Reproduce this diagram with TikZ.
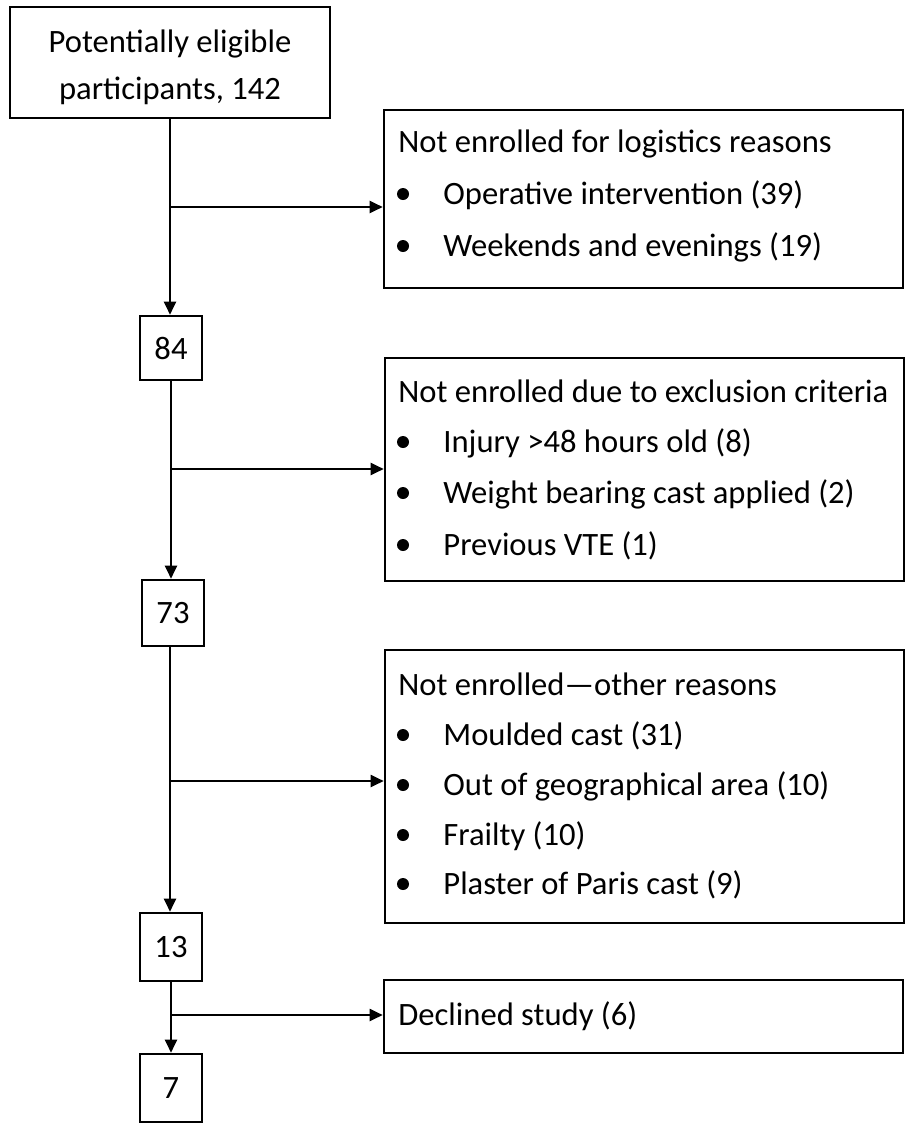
\documentclass[tikz,border=0pt]{standalone}
\usepackage{fontspec}
\setmainfont{Carlito}
\usetikzlibrary{arrows.meta}
\begin{document}
\begin{tikzpicture}[x=0.5pt,y=-0.5pt,
  every node/.style={font=\fontsize{16.3}{23.5}\selectfont},
  box/.style={draw, line width=1.3pt, inner sep=0pt},
  txt/.style={anchor=base west, inner sep=0pt},
  dot/.style={circle, fill, inner sep=0pt, minimum size=6pt},
  arr/.style={line width=1pt, -{Triangle[length=6.5pt,width=6pt]}},
  ln/.style={line width=1pt}]
\useasboundingbox (0,0) rectangle (907,1130);

% left column boxes
\node[box, minimum width=160pt, minimum height=55.5pt] (top) at (170,62.5) {};
\node[align=center, inner sep=0pt] (toptext) at (170,67) {Potentially eligible\\participants, 142};
\node[box, minimum width=31pt, minimum height=32pt] (n84) at (171,348) {\raisebox{-2pt}{84}};
\node[box, minimum width=31pt, minimum height=33pt] (n73) at (173,613) {\raisebox{-0.5pt}{73}};
\node[box, minimum width=31pt, minimum height=34pt] (n13) at (171,947) {\raisebox{-1.5pt}{13}};
\node[box, minimum width=31pt, minimum height=34pt] (n7) at (171,1088) {\raisebox{-1pt}{7}};

% right boxes
\node[box, minimum width=259.5pt, minimum height=89pt] (r1) at (643.5,199) {};
\node[box, minimum width=259.5pt, minimum height=111.5pt] (r2) at (644.5,469.5) {};
\node[box, minimum width=259.5pt, minimum height=136.5pt] (r3) at (644.5,786.5) {};
\node[box, minimum width=259.5pt, minimum height=36.5pt] (r4) at (643.5,1016.5) {};

% box 1 text
\node[txt] (r1t) at (398,152) {Not enrolled for logistics reasons};
\node[dot] (r1d1) at (403,194) {};
\node[txt] (r1a) at (443,204) {Operative intervention (39)};
\node[dot] (r1d2) at (403,246) {};
\node[txt] (r1b) at (443,256) {Weekends and evenings (19)};

% box 2 text
\node[txt] (r2t) at (398,402) {Not enrolled due to exclusion criteria};
\node[dot] (r2d1) at (403,442) {};
\node[txt] (r2a) at (443,452) {Injury >48 hours old (8)};
\node[dot] (r2d2) at (403,493) {};
\node[txt] (r2b) at (443,503) {Weight bearing cast applied (2)};
\node[dot] (r2d3) at (403,545) {};
\node[txt] (r2c) at (443,555) {Previous VTE (1)};

% box 3 text
\node[txt] (r3t) at (398,695) {Not enrolled---other reasons};
\node[dot] (r3d1) at (403,735) {};
\node[txt] (r3a) at (443,745) {Moulded cast (31)};
\node[dot] (r3d2) at (403,785) {};
\node[txt] (r3b) at (443,795) {Out of geographical area (10)};
\node[dot] (r3d3) at (403,835) {};
\node[txt] (r3c) at (443,845) {Frailty (10)};
\node[dot] (r3d4) at (403,884) {};
\node[txt] (r3d) at (443,894) {Plaster of Paris cast (9)};

% box 4 text
\node[txt] (r4t) at (398,1025) {Declined study (6)};

% connectors
\coordinate (j1) at (170,207);
\coordinate (j2) at (171,469);
\coordinate (j3) at (170,781);
\coordinate (j4) at (171,1015);

\draw[arr] (top.south) -- (top.south |- n84.north);
\draw[arr] (j1) -- (j1 -| r1.west);
\draw[arr] (n84.south) -- (n84.south |- n73.north);
\draw[arr] (j2) -- (j2 -| r2.west);
\draw[arr] (n73.south -| j3) -- (j3 |- n13.north);
\draw[arr] (j3) -- (j3 -| r3.west);
\draw[arr] (n13.south) -- (n7.north);
\draw[arr] (j4) -- (j4 -| r4.west);
\end{tikzpicture}
\end{document}
